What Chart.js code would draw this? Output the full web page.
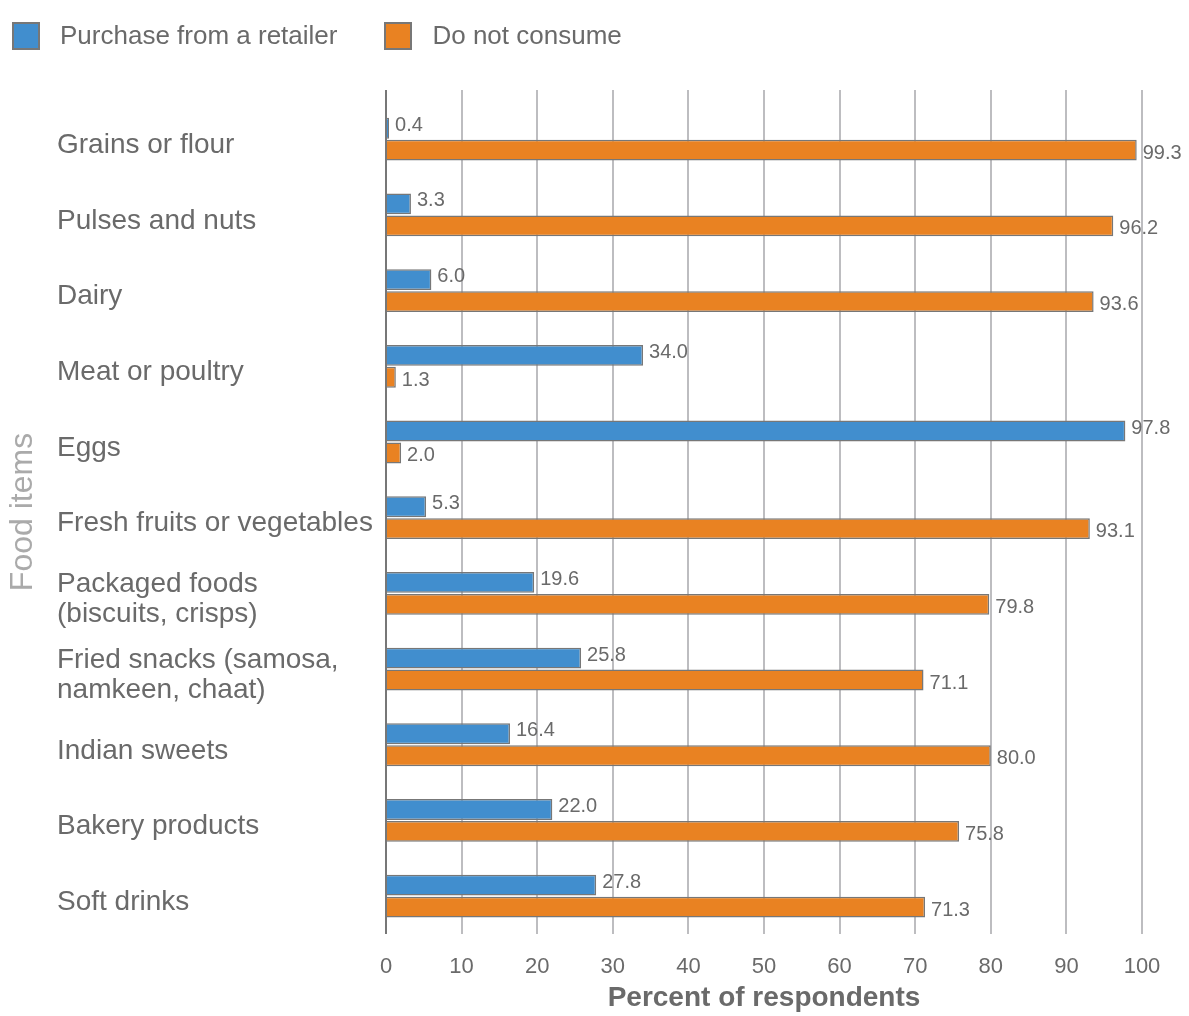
<!DOCTYPE html>
<html>
<head>
<meta charset="utf-8">
<script src="https://cdn.jsdelivr.net/npm/chart.js@4.4.1/dist/chart.umd.min.js"></script>
<style>
    html, body { margin: 0; padding: 0; background: #fff; }
    #wrap { position: relative; width: 1189px; height: 1016px; }
    #legend { position: absolute; left: 12px; top: 20px; display: flex; font: 26px "Liberation Sans", Arial, sans-serif; color: #6a6a6a; }
    .item { display: flex; align-items: center; margin-right: 47px; }
    .swatch { width: 28px; height: 28px; box-sizing: border-box; border: 2px solid #777; margin-right: 20px; }
</style>
</head>
<body>
<div id="wrap">
    <canvas id="foodChart"></canvas>
    <div id="legend"></div>
</div>
<script>
// Lebensmittel (zweizeilige Beschriftungen als Arrays)
const categories = [
    'Grains or flour',
    'Pulses and nuts',
    'Dairy',
    'Meat or poultry',
    'Eggs',
    'Fresh fruits or vegetables',
    ['Packaged foods', '(biscuits, crisps)'],
    ['Fried snacks (samosa,', 'namkeen, chaat)'],
    'Indian sweets',
    'Bakery products',
    'Soft drinks'
];
const seriesNames = ['Purchase from a retailer', 'Do not consume'];
const purchaseValues = [0.4, 3.3, 6.0, 34.0, 97.8, 5.3, 19.6, 25.8, 16.4, 22.0, 27.8];
const notConsumeValues = [99.3, 96.2, 93.6, 1.3, 2.0, 93.1, 79.8, 71.1, 80.0, 75.8, 71.3];
const xTicks = [0, 10, 20, 30, 40, 50, 60, 70, 80, 90, 100];

const colors = ['#418ece', '#e98222'];

// Beschriftungen der Lebensmittel leicht unter der Balkenmitte
const labelShift = 0.08;

Chart.defaults.font.family = '"Liberation Sans", Arial, sans-serif';
Chart.defaults.color = '#6a6a6a';

// Werte als Beschriftung rechts neben jedem Balken
const valueLabels = {
    id: 'valueLabels',
    afterDatasetsDraw(chart) {
        const ctx = chart.ctx;
        ctx.save();
        ctx.font = '20px "Liberation Sans", Arial, sans-serif';
        ctx.fillStyle = '#6a6a6a';
        ctx.textAlign = 'left';
        ctx.textBaseline = 'middle';
        chart.data.datasets.forEach((ds, di) => {
            const meta = chart.getDatasetMeta(di);
            meta.data.forEach((bar, i) => {
                const dy = di === 0 ? -3 : 3;
                ctx.fillText(ds.data[i].x.toFixed(1), bar.x + 6, bar.y + dy);
            });
        });
        ctx.restore();
    }
};

const toPoints = values => values.map((v, i) => ({ x: v, y: i }));

const chart = new Chart(document.getElementById('foodChart'), {
    type: 'bar',
    data: {
        datasets: [{
            label: seriesNames[0],
            data: toPoints(purchaseValues),
            backgroundColor: colors[0],
            borderColor: '#777',
            borderWidth: 1.5
        }, {
            label: seriesNames[1],
            data: toPoints(notConsumeValues),
            backgroundColor: colors[1],
            borderColor: '#777',
            borderWidth: 1.5
        }]
    },
    options: {
        indexAxis: 'y',
        responsive: true,
        maintainAspectRatio: false,
        animation: false,
        categoryPercentage: 0.58,
        barPercentage: 0.95,
        layout: { padding: { top: 90, right: 47, bottom: 1, left: 0 } },
        plugins: {
            legend: { display: false },
            tooltip: { enabled: false }
        },
        scales: {
            x: {
                type: 'linear',
                min: 0,
                max: 100,
                afterBuildTicks: scale => { scale.ticks = xTicks.map(v => ({ value: v })); },
                afterFit: scale => { scale.height = 81; },
                grid: {
                    color: c => (c.tick && c.tick.value === 0 ? '#777' : '#bdbdc0'),
                    lineWidth: 2,
                    drawTicks: false
                },
                border: { display: false },
                ticks: { font: { size: 22 }, color: '#6a6a6a', padding: 20 },
                title: {
                    display: true,
                    text: 'Percent of respondents',
                    font: { size: 28, weight: 'bold' },
                    color: '#6a6a6a',
                    padding: { top: 0, bottom: 0 }
                }
            },
            y: {
                type: 'linear',
                reverse: true,
                min: -0.65,
                max: 10.5,
                offset: false,
                bounds: 'data',
                weight: 0,
                // ein Tick pro Lebensmittel
                afterBuildTicks: scale => { scale.ticks = categories.map((c, i) => ({ value: i + labelShift })); },
                afterFit: scale => { scale.width = 329; },
                grid: { display: false, offset: false },
                border: { display: false },
                ticks: {
                    autoSkip: false,
                    crossAlign: 'far',
                    font: { size: 28, lineHeight: 1.07 },
                    color: '#6a6a6a',
                    callback: v => categories[Math.round(v)]
                }
            },
            // nur für den Achsentitel links
            yTitle: {
                type: 'linear',
                position: 'left',
                weight: 10,
                afterFit: scale => { scale.width = 57; },
                grid: { display: false },
                border: { display: false },
                ticks: { display: false },
                title: {
                    display: true,
                    text: 'Food items',
                    font: { size: 32 },
                    color: '#aaa',
                    padding: { top: 4, bottom: 0 }
                }
            }
        }
    },
    plugins: [valueLabels]
});

// Legende als HTML
const legendEl = document.getElementById('legend');
chart.data.datasets.forEach(ds => {
    const item = document.createElement('div');
    item.className = 'item';
    const sw = document.createElement('span');
    sw.className = 'swatch';
    sw.style.background = ds.backgroundColor;
    item.appendChild(sw);
    item.appendChild(document.createTextNode(ds.label));
    legendEl.appendChild(item);
});
</script>
</body>
</html>
